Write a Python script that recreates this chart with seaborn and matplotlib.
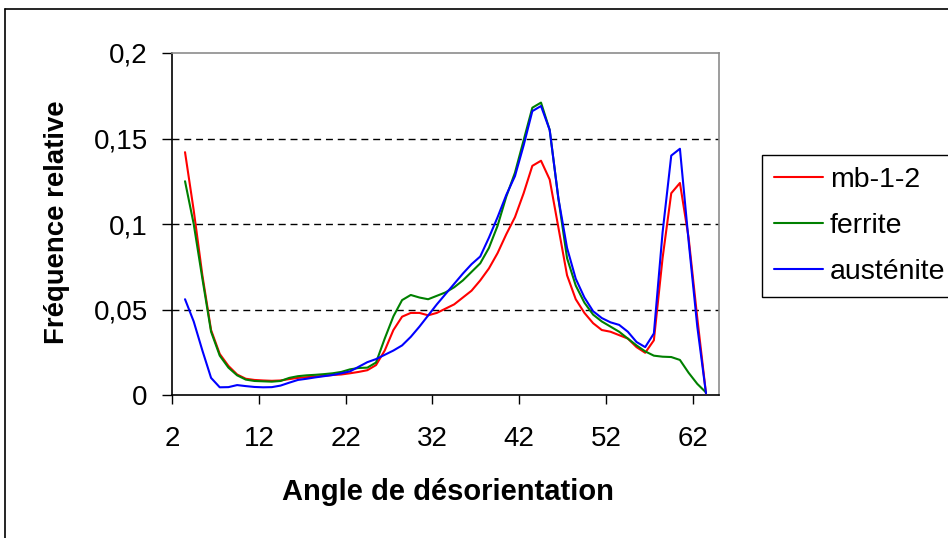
import numpy as np
import pandas as pd
import matplotlib
matplotlib.use("Agg")
import matplotlib.pyplot as plt
from matplotlib.lines import Line2D
import seaborn as sns

# ---- data ----
angles = [3.5 + i for i in range(61)]

mb_1_2 = [0.142, 0.108, 0.070, 0.038, 0.024, 0.017, 0.012, 0.0095, 0.0088, 0.0085,
          0.0083, 0.0085, 0.0093, 0.0100, 0.0104, 0.0108, 0.0112, 0.0117, 0.0120, 0.0127,
          0.0135, 0.0145, 0.0175, 0.026, 0.038, 0.0458, 0.048, 0.048, 0.0466, 0.048,
          0.0505, 0.053, 0.057, 0.061, 0.067, 0.074, 0.083, 0.094, 0.104, 0.118,
          0.134, 0.137, 0.126, 0.098, 0.070, 0.056, 0.048, 0.042, 0.038, 0.037,
          0.035, 0.033, 0.028, 0.0247, 0.032, 0.080, 0.118, 0.124, 0.092, 0.045,
          0.001]

ferrite = [0.125, 0.100, 0.068, 0.037, 0.023, 0.016, 0.0115, 0.009, 0.0082, 0.008,
           0.0078, 0.0082, 0.010, 0.011, 0.0115, 0.0118, 0.0122, 0.0127, 0.0135, 0.015,
           0.0158, 0.016, 0.019, 0.033, 0.046, 0.0555, 0.0585, 0.057, 0.056, 0.058,
           0.060, 0.063, 0.067, 0.072, 0.077, 0.086, 0.099, 0.116, 0.130, 0.149,
           0.168, 0.171, 0.155, 0.115, 0.080, 0.064, 0.054, 0.047, 0.043, 0.040,
           0.037, 0.033, 0.029, 0.0255, 0.023, 0.0224, 0.0222, 0.0205, 0.013, 0.0065,
           0.0015]

austenite = [0.056, 0.043, 0.026, 0.010, 0.0045, 0.0046, 0.0058, 0.0052, 0.0047, 0.0045,
             0.0046, 0.0055, 0.0072, 0.0088, 0.0095, 0.0103, 0.011, 0.0117, 0.0127, 0.0138,
             0.0165, 0.0192, 0.021, 0.0235, 0.026, 0.029, 0.034, 0.040, 0.0465, 0.053,
             0.059, 0.065, 0.071, 0.0765, 0.081, 0.092, 0.104, 0.117, 0.128, 0.146,
             0.166, 0.169, 0.155, 0.115, 0.086, 0.068, 0.057, 0.049, 0.045, 0.0425,
             0.041, 0.037, 0.031, 0.028, 0.036, 0.095, 0.140, 0.144, 0.090, 0.040,
             0.001]

series_names = ["mb-1-2", "ferrite", "austénite"]
series_colors = ["#FF0000", "#008000", "#0000FF"]

x_ticks = [2, 12, 22, 32, 42, 52, 62]
y_ticks = [0, 0.05, 0.1, 0.15, 0.2]
y_tick_labels = ["0", "0,05", "0,1", "0,15", "0,2"]

df = pd.concat([
    pd.DataFrame({"angle": angles, "freq": vals, "serie": name})
    for name, vals in zip(series_names, [mb_1_2, ferrite, austenite])
], ignore_index=True)

# ---- style ----
sns.set_style("white")
plt.rcParams["font.family"] = ["Liberation Sans", "DejaVu Sans"]
plt.rcParams["text.color"] = "black"
plt.rcParams["axes.labelcolor"] = "black"
plt.rcParams["xtick.color"] = "black"
plt.rcParams["ytick.color"] = "black"

W, H = 948, 538
fig = plt.figure(figsize=(W / 100, H / 100), dpi=100)
L, R, T, B = 172, 719, 53, 395
ax = fig.add_axes([L / W, 1 - B / H, (R - L) / W, (B - T) / H])

sns.lineplot(data=df, x="angle", y="freq", hue="serie", hue_order=series_names,
             palette=series_colors, linewidth=1.5, legend=False, ax=ax,
             errorbar=None, sort=True, zorder=3)

ax.set_xlim(2, 65)
ax.set_ylim(0, 0.2)
ax.set_xticks(x_ticks)
ax.set_xticklabels([str(t) for t in x_ticks])
ax.set_yticks(y_ticks)
ax.set_yticklabels(y_tick_labels)

ax.tick_params(axis="y", which="major", direction="out", length=7, width=1,
               color="black", labelcolor="black", labelsize=20, pad=10.5, left=True)
ax.tick_params(axis="x", which="major", direction="out", length=6.5, width=1,
               color="black", labelcolor="black", labelsize=20, pad=16, bottom=True)

ax.grid(False)
ax.yaxis.grid(True, color="black", linestyle=(0, (5, 3.5)), linewidth=1.0, zorder=1)
gl = ax.yaxis.get_gridlines()
gl[0].set_visible(False)
gl[-1].set_visible(False)
ax.set_axisbelow(True)

for side in ["left", "bottom"]:
    ax.spines[side].set_color("black")
    ax.spines[side].set_linewidth(1.2)
for side in ["top", "right"]:
    ax.spines[side].set_color("#8c8c8c")
    ax.spines[side].set_linewidth(1.2)

ax.set_xlabel("Angle de désorientation", fontsize=21, fontweight="bold", color="black")
ax.set_ylabel("Fréquence relative", fontsize=19.8, fontweight="bold", color="black")
ax.xaxis.set_label_coords(((448 - L) / (R - L)), (B - 492) / (B - T))
ax.xaxis.label.set_va("center")
ax.yaxis.set_label_coords((57 - L) / (R - L), (B - 222) / (B - T))
ax.yaxis.label.set_va("center")

handles = [Line2D([], [], color=c, linewidth=1.5) for c in series_colors]
leg = ax.legend(handles, series_names, loc="upper left",
                bbox_to_anchor=(762 / W, 1 - 155 / H), bbox_transform=fig.transFigure,
                borderaxespad=0, fontsize=20.5, frameon=True, fancybox=False,
                framealpha=1, edgecolor="black", handlelength=1.72,
                handletextpad=0.24, labelspacing=0.7, borderpad=0.42)
leg.get_frame().set_linewidth(1.0)
for t in leg.get_texts():
    t.set_color("black")

# outer chart frame (extends beyond the image on the right and bottom)
fig.add_artist(Line2D([5 / W, 5 / W], [-0.1, 1 - 9 / H], transform=fig.transFigure,
                      color="black", linewidth=1.2))
fig.add_artist(Line2D([5 / W, 1.1], [1 - 9 / H, 1 - 9 / H], transform=fig.transFigure,
                      color="black", linewidth=1.2))

fig.savefig("out.png", dpi=100)
